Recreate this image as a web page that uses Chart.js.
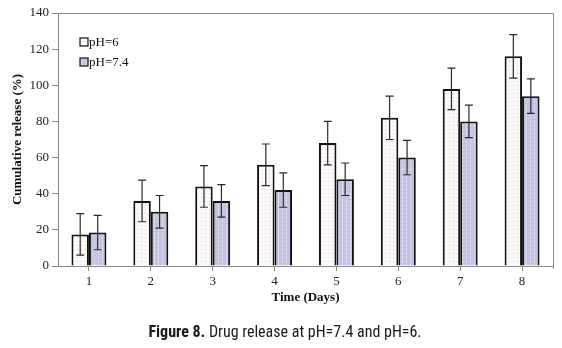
<!DOCTYPE html>
<html>
<head>
<meta charset="utf-8">
<script src="https://cdn.jsdelivr.net/npm/chart.js@4.4.1/dist/chart.umd.min.js"></script>
<style>
  html, body { margin: 0; padding: 0; background: #fff; }
  #wrap { position: relative; width: 562px; height: 348px; }
  #caption {
    position: absolute; left: 0; top: 322px; width: 570px; text-align: center;
    font-family: "Liberation Sans Narrow", "Roboto Condensed", Roboto, sans-serif;
    font-size: 16px; color: #1a1a1a;
  }
</style>
</head>
<body>
<div id="wrap">
  <canvas id="grafica" width="562" height="348"></canvas>
  <div id="caption"><b>Figure 8.</b> Drug release at pH=7.4 and pH=6.</div>
</div>
<script>
// Datos
const dias = ['1', '2', '3', '4', '5', '6', '7', '8'];
const liberacionPH6 = [17.5, 36, 44, 56, 68, 82, 98, 116];
const errorPH6 = [11.5, 11.5, 11.5, 11.5, 12, 12, 11.5, 12];
const liberacionPH74 = [18.5, 30, 36, 42, 48, 60, 80, 94];
const errorPH74 = [9.5, 9, 9, 9.5, 9, 9.5, 9, 9.5];
const ticksY = [0, 20, 40, 60, 80, 100, 120, 140];

// Texturas de las barras
function patronPuntos() {
    const c = document.createElement('canvas');
    c.width = 4; c.height = 4;
    const g = c.getContext('2d');
    g.fillStyle = '#fdf9fa';
    g.fillRect(0, 0, 4, 4);
    g.fillStyle = '#efc6cf';
    g.fillRect(1, 1, 1, 1);
    return g.createPattern(c, 'repeat');
}

function patronRayas() {
    const c = document.createElement('canvas');
    c.width = 4; c.height = 4;
    const g = c.getContext('2d');
    g.fillStyle = '#c3c3e3';
    g.fillRect(0, 0, 4, 4);
    g.fillStyle = '#dcdcf1';
    g.fillRect(2, 0, 1, 3);
    return g.createPattern(c, 'repeat');
}

// Barras de error
const barrasError = {
    id: 'barrasError',
    afterDatasetsDraw(chart) {
        const ctx = chart.ctx;
        const y = chart.scales.y;
        const errores = [errorPH6, errorPH74];
        ctx.save();
        ctx.strokeStyle = '#2a2a2a';
        ctx.lineWidth = 1.2;
        chart.data.datasets.forEach((ds, i) => {
            chart.getDatasetMeta(i).data.forEach((bar, j) => {
                const v = ds.data[j];
                const e = errores[i][j];
                const yTop = y.getPixelForValue(v + e);
                const yBot = y.getPixelForValue(v - e);
                ctx.beginPath();
                ctx.moveTo(bar.x, yTop); ctx.lineTo(bar.x, yBot);
                ctx.moveTo(bar.x - 4, yTop); ctx.lineTo(bar.x + 4, yTop);
                ctx.moveTo(bar.x - 4, yBot); ctx.lineTo(bar.x + 4, yBot);
                ctx.stroke();
            });
        });
        ctx.restore();
    }
};

// Marco y leyenda dentro del area
const marcoLeyenda = {
    id: 'marcoLeyenda',
    afterDraw(chart) {
        const ctx = chart.ctx;
        const a = chart.chartArea;
        ctx.save();
        ctx.strokeStyle = '#8a8a8a';
        ctx.lineWidth = 1;
        ctx.beginPath();
        ctx.moveTo(a.left, a.top + 0.5);
        ctx.lineTo(a.right + 0.5, a.top + 0.5);
        ctx.lineTo(a.right + 0.5, a.bottom + 3);
        ctx.stroke();

        ctx.font = '13px "Liberation Serif", "Times New Roman", serif';
        ctx.textBaseline = 'middle';
        chart.data.datasets.forEach((ds, i) => {
            const yy = 42 + i * 20;
            ctx.fillStyle = ds.backgroundColor;
            ctx.fillRect(80, yy - 4, 8, 8);
            ctx.strokeStyle = '#111';
            ctx.lineWidth = 1.2;
            ctx.strokeRect(80, yy - 4, 8, 8);
            ctx.fillStyle = '#111';
            ctx.fillText(ds.label, 89, yy + 1);
        });
        ctx.restore();
    }
};

new Chart(document.getElementById('grafica'), {
    type: 'bar',
    data: {
        labels: dias,
        datasets: [
            {
                label: 'pH=6',
                data: liberacionPH6,
                backgroundColor: patronPuntos(),
                borderColor: '#111',
                borderWidth: 2
            },
            {
                label: 'pH=7.4',
                data: liberacionPH74,
                backgroundColor: patronRayas(),
                borderColor: '#111',
                borderWidth: 2
            }
        ]
    },
    options: {
        responsive: false,
        animation: false,
        layout: { padding: { top: 13, right: 9, bottom: 36, left: 0 } },
        categoryPercentage: 0.565,
        barPercentage: 1,
        plugins: {
            legend: { display: false },
            tooltip: { enabled: false }
        },
        scales: {
            x: {
                grid: {
                    offset: false,
                    drawOnChartArea: false,
                    color: '#8a8a8a',
                    tickLength: 5
                },
                border: { color: '#8a8a8a' },
                ticks: {
                    color: '#222',
                    padding: 3,
                    font: { family: '"Liberation Serif", "Times New Roman", serif', size: 13 }
                },
                title: {
                    display: true,
                    text: 'Time (Days)',
                    color: '#111',
                    padding: { top: 0, bottom: 7 },
                    font: { family: '"Liberation Serif", "Times New Roman", serif', size: 13, weight: 'bold' }
                },
                afterFit(scale) { scale.height = 46; }
            },
            y: {
                min: 0,
                max: 140,
                afterBuildTicks(scale) { scale.ticks = ticksY.map(v => ({ value: v })); },
                grid: {
                    drawOnChartArea: false,
                    color: '#8a8a8a',
                    tickLength: 6
                },
                border: { color: '#8a8a8a' },
                ticks: {
                    color: '#222',
                    padding: 3,
                    font: { family: '"Liberation Serif", "Times New Roman", serif', size: 13 }
                },
                title: {
                    display: true,
                    text: 'Cumulative release (%)',
                    color: '#111',
                    padding: { top: 10, bottom: 0 },
                    font: { family: '"Liberation Serif", "Times New Roman", serif', size: 13, weight: 'bold' }
                },
                afterFit(scale) { scale.width = 58; }
            }
        }
    },
    plugins: [barrasError, marcoLeyenda]
});
</script>
</body>
</html>
